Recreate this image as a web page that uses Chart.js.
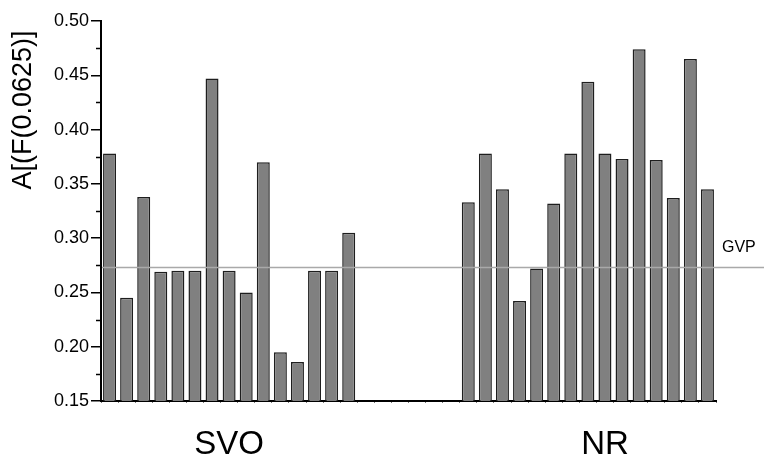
<!DOCTYPE html>
<html>
<head>
<meta charset="utf-8">
<script src="https://cdn.jsdelivr.net/npm/chart.js@4.4.1/dist/chart.umd.min.js"></script>
<style>
  html, body { margin: 0; padding: 0; background: #fff; }
  #wrap { width: 764px; height: 464px; }
</style>
</head>
<body>
<div id="wrap"><canvas id="gvpChart" width="764" height="464"></canvas></div>
<script>
// A[(F(0.0625)] per sample, two groups with an empty stretch between them
const svoValues = [0.378, 0.245, 0.338, 0.269, 0.270, 0.270, 0.447, 0.270, 0.250, 0.370, 0.195, 0.186, 0.270, 0.270, 0.305];
const nrValues = [0.333, 0.378, 0.345, 0.242, 0.272, 0.332, 0.378, 0.444, 0.378, 0.373, 0.474, 0.372, 0.337, 0.465, 0.345];
const gapSlots = 6;
const groupNames = ['SVO', 'NR'];
const groupLabelSlots = [7, 29];
const gvpValue = 0.273;
const gvpLabel = 'GVP';
const yMin = 0.15, yMax = 0.50, yStep = 0.05;
const yTitle = 'A[(F(0.0625)]';

const FONT = "'Liberation Sans', Arial, sans-serif";

const values = [...svoValues, ...Array(gapSlots).fill(null), ...nrValues];
const labels = values.map((v, i) => 'c' + i);

// reference line, its label, the minor y ticks and the offset axis title
const extras = {
    id: 'extras',
    afterDraw(chart) {
        const { ctx, chartArea, scales } = chart;
        const y = scales.y;
        ctx.save();

        // minor ticks halfway between the labelled ones
        ctx.strokeStyle = '#000';
        ctx.lineWidth = 1.5;
        for (let v = yMin + yStep / 2; v < yMax; v += yStep) {
            const py = Math.round(y.getPixelForValue(v)) + 0.5;
            ctx.beginPath();
            ctx.moveTo(chartArea.left - 5, py);
            ctx.lineTo(chartArea.left, py);
            ctx.stroke();
        }

        // GVP line runs past the plot to the page edge
        const gy = Math.round(y.getPixelForValue(gvpValue)) + 0.5;
        ctx.strokeStyle = '#a9a9a9';
        ctx.lineWidth = 1.5;
        ctx.beginPath();
        ctx.moveTo(chartArea.left + 1, gy);
        ctx.lineTo(chart.width, gy);
        ctx.stroke();

        ctx.fillStyle = '#000';
        ctx.font = '16px ' + FONT;
        ctx.textAlign = 'left';
        ctx.textBaseline = 'alphabetic';
        ctx.fillText(gvpLabel, chartArea.right + 6, gy - 16);

        // y title sits in the upper part of the axis
        ctx.translate(chartArea.left - 77, chartArea.top + 89);
        ctx.rotate(-Math.PI / 2);
        ctx.textAlign = 'center';
        ctx.textBaseline = 'middle';
        ctx.font = '27px ' + FONT;
        ctx.fillText(yTitle, 0, 0);
        ctx.restore();
    }
};

new Chart(document.getElementById('gvpChart'), {
    type: 'bar',
    data: {
        labels: labels,
        datasets: [{
            data: values,
            backgroundColor: '#808080',
            borderColor: '#1e1e1e',
            borderWidth: 1.5,
            categoryPercentage: 1.0,
            barPercentage: 0.76
        }]
    },
    options: {
        responsive: false,
        animation: false,
        devicePixelRatio: 1,
        layout: { padding: { top: 21, right: 48, left: 0, bottom: 0 } },
        plugins: {
            legend: { display: false },
            tooltip: { enabled: false }
        },
        scales: {
            x: {
                afterFit(scale) { scale.height = 63; },
                border: { display: true, color: '#000', width: 2 },
                grid: {
                    drawOnChartArea: false,
                    drawTicks: true,
                    tickLength: 2,
                    color: '#777',
                    lineWidth: 1
                },
                ticks: {
                    autoSkip: false,
                    maxRotation: 0,
                    padding: 22,
                    color: '#000',
                    font: { family: FONT, size: 33 },
                    callback: (val, i) => {
                        const g = groupLabelSlots.indexOf(i);
                        return g >= 0 ? groupNames[g] : '';
                    }
                }
            },
            y: {
                min: yMin,
                max: yMax,
                afterFit(scale) { scale.width = 101; },
                border: { display: true, color: '#000', width: 2 },
                grid: {
                    drawOnChartArea: false,
                    tickLength: 10,
                    color: '#000',
                    lineWidth: 1.5
                },
                ticks: {
                    stepSize: yStep,
                    padding: 2,
                    color: '#000',
                    font: { family: FONT, size: 18 },
                    callback: v => v.toFixed(2)
                }
            }
        }
    },
    plugins: [extras]
});
</script>
</body>
</html>
